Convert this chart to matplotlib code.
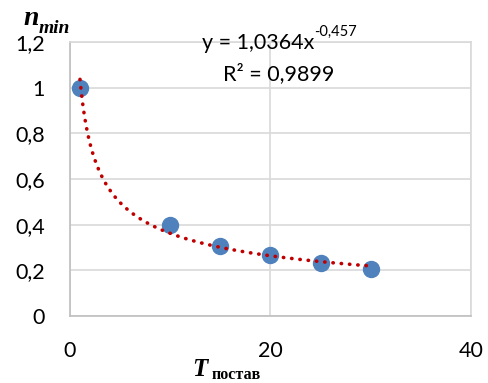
import numpy as np
import matplotlib
matplotlib.use("Agg")
import matplotlib.pyplot as plt

# data
t_values = [1, 10, 15, 20, 25, 30]
n_values = [1.0, 0.40, 0.305, 0.265, 0.23, 0.205]

# power trendline shown on the chart
coef_a = 1.0364
coef_b = -0.457
r_squared = 0.9899

x_ticks = [0, 20, 40]
y_ticks = [0, 0.2, 0.4, 0.6, 0.8, 1.0, 1.2]

TICK_FONT = "Lato"
SERIF = "Liberation Serif"
GRID = "#D9D9D9"


def comma(v):
    return f"{v:g}".replace(".", ",")


fig = plt.figure(figsize=(4.89, 3.83), dpi=100)
ax = fig.add_axes([0.1431, 0.175, 0.82, 0.7153])

trend_x = np.linspace(min(t_values), max(t_values), 200)
trend_y = coef_a * trend_x ** coef_b

ax.plot(t_values, n_values, "o", color="#4F81BD", markersize=11.5, zorder=3)
ax.plot(trend_x, trend_y, color="#C00000", linewidth=2.6,
        linestyle=(0, (0.1, 2.2)), dash_capstyle="round", zorder=4)

ax.set_xlim(0, 40)
ax.set_ylim(0, 1.2)
ax.set_xticks(x_ticks)
ax.set_yticks(y_ticks)
ax.set_xticklabels([comma(v) for v in x_ticks], fontfamily=TICK_FONT, fontsize=15.5)
ax.set_yticklabels([comma(v) for v in y_ticks], fontfamily=TICK_FONT, fontsize=15.5)
ax.tick_params(axis="both", length=0, colors="black")
ax.tick_params(axis="x", pad=18)
ax.tick_params(axis="y", pad=18)

ax.grid(True, color=GRID, linewidth=1.2)
ax.set_axisbelow(True)
for side in ["top", "right"]:
    ax.spines[side].set_color(GRID)
    ax.spines[side].set_linewidth(1.2)
for side in ["left", "bottom"]:
    ax.spines[side].set_color("#BFBFBF")
    ax.spines[side].set_linewidth(1.2)

# trendline equation
eq = ax.text(0.47, 0.995, f"y = {comma(coef_a)}x", transform=ax.transAxes,
             ha="center", va="center", fontfamily=TICK_FONT, fontsize=15.5)
ax.annotate(comma(coef_b), xy=(1, 0.72), xycoords=eq, ha="left", va="bottom",
            fontfamily=TICK_FONT, fontsize=10.5)
ax.text(0.52, 0.883, f"R² = {comma(r_squared)}", transform=ax.transAxes,
        ha="center", va="center", fontfamily=TICK_FONT, fontsize=15.5)

# axis labels
fig.text(0.047, 0.935, "n", fontfamily=SERIF, fontsize=20,
         fontweight="bold", fontstyle="italic", ha="left", va="baseline")
fig.text(0.078, 0.915, "min", fontfamily=SERIF, fontsize=14,
         fontweight="bold", fontstyle="italic", ha="left", va="baseline")
fig.text(0.392, 0.018, "T", fontfamily=SERIF, fontsize=18,
         fontweight="bold", fontstyle="italic", ha="left", va="baseline")
fig.text(0.432, 0.011, "постав", fontfamily=SERIF, fontsize=11.5,
         fontweight="bold", ha="left", va="baseline")

fig.savefig("out.png", dpi=100)
